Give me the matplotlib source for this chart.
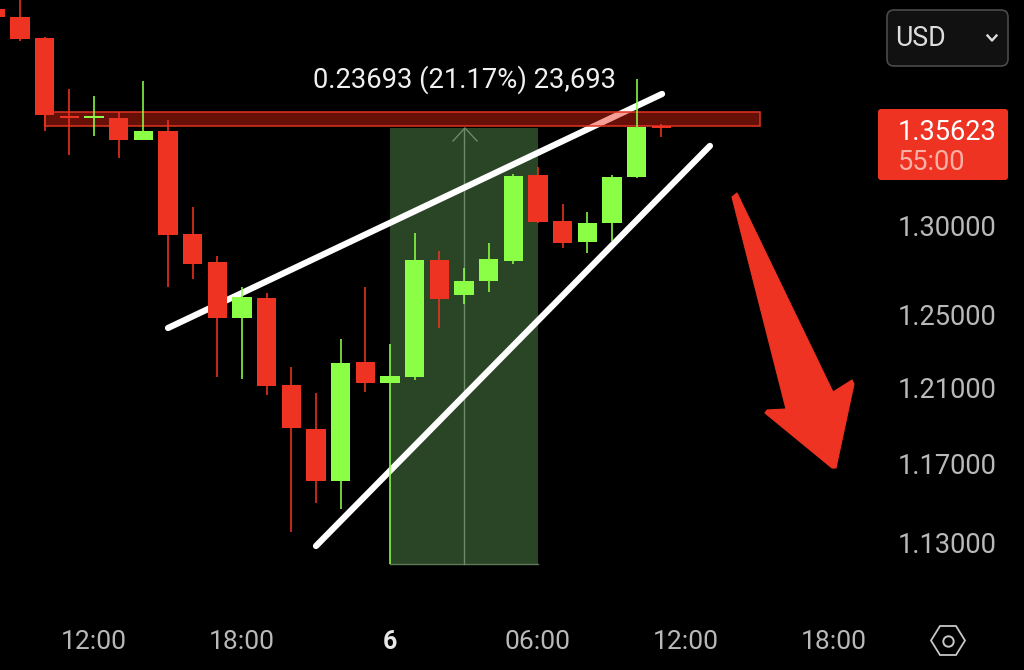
import matplotlib
matplotlib.use("Agg")
import matplotlib.pyplot as plt
from matplotlib.patches import Polygon, Rectangle, FancyBboxPatch
from matplotlib.lines import Line2D
from matplotlib.ticker import NullLocator, NullFormatter, FixedLocator, FixedFormatter
from matplotlib.transforms import Affine2D

plt.rcParams['font.family'] = ['Roboto', 'DejaVu Sans']

# --- data (hours since 12:00 of the previous day) ---
hours = list(range(-4, 24))
opens = [1.4313, 1.4262, 1.4130, 1.3650, 1.3638, 1.3638, 1.3505, 1.3559, 1.2954, 1.2794,
         1.2480, 1.2592, 1.2115, 1.1881, 1.1610, 1.2239, 1.2126, 1.2158, 1.2805, 1.2608,
         1.2687, 1.2800, 1.3297, 1.3029, 1.2908, 1.3017, 1.3286, 1.3590]
closes = [1.4262, 1.4124, 1.3656, 1.3638, 1.3650, 1.3505, 1.3559, 1.2948, 1.2783, 1.2480,
          1.2597, 1.2110, 1.1886, 1.1610, 1.2234, 1.2126, 1.2163, 1.2805, 1.2586, 1.2687,
          1.2811, 1.3291, 1.3023, 1.2902, 1.3017, 1.3286, 1.3583, 1.3577]
highs = [1.4313, 1.4402, 1.4136, 1.3814, 1.3771, 1.3674, 1.3863, 1.3626, 1.3110, 1.2828,
         1.2653, 1.2620, 1.2212, 1.2072, 1.2365, 1.2653, 1.2337, 1.2960, 1.2857, 1.2760,
         1.2902, 1.3303, 1.3345, 1.3128, 1.3081, 1.3297, 1.3876, 1.3604]
lows = [1.4262, 1.4111, 1.3559, 1.3416, 1.3529, 1.3398, 1.3505, 1.2653, 1.2698, 1.2158,
        1.2147, 1.2061, 1.1350, 1.1497, 1.1467, 1.2077, 1.1190, 1.2142, 1.2425, 1.2558,
        1.2625, 1.2783, 1.3017, 1.2874, 1.2845, 1.2914, 1.3280, 1.3523]

price_ticks = [1.30, 1.25, 1.21, 1.17, 1.13]
price_labels = ["1.30000", "1.25000", "1.21000", "1.17000", "1.13000"]
time_ticks = [0, 6, 12, 18, 24, 30]
time_labels = ["12:00", "18:00", "6", "06:00", "12:00", "18:00"]

trend_upper_x, trend_upper_y = [3.0, 23.03], [1.2425, 1.3784]
trend_lower_x, trend_lower_y = [9.0, 24.97], [1.1280, 1.3470]
band_x, band_y = [-2.0, 27.0], [1.3590, 1.3674]
measure_x, measure_y = [12, 18], [1.1190, 1.3577]
measure_text = "0.23693 (21.17%) 23,693"
last_price = "1.35623"
countdown = "55:00"

RED = "#ee3322"
GREEN = "#8aff45"

fig = plt.figure(figsize=(10.24, 6.7), dpi=100, facecolor="black")
ax = fig.add_axes([0, 0, 1, 1], facecolor="black")
ax.set_yscale("log")
ppi = 148 / 6
ax.set_xlim(-94 / ppi, 930 / ppi)
ax.set_ylim(1.06765, 1.43704)
for s in ax.spines.values():
    s.set_visible(False)

ax.yaxis.tick_right()
ax.yaxis.set_major_locator(FixedLocator(price_ticks))
ax.yaxis.set_major_formatter(FixedFormatter(price_labels))
ax.yaxis.set_minor_locator(NullLocator())
ax.yaxis.set_minor_formatter(NullFormatter())
ax.tick_params(axis="y", length=0, pad=-90.7, labelsize=19.6, labelcolor="#b9b9b9")
ax.xaxis.set_major_locator(FixedLocator(time_ticks))
ax.xaxis.set_major_formatter(FixedFormatter(time_labels))
ax.tick_params(axis="x", length=0, pad=-29.0, labelsize=19.0, labelcolor="#b9b9b9")
for lab, txt in zip(ax.get_xticklabels(), time_labels):
    if txt == "6":
        lab.set_fontweight("bold")
        lab.set_fontsize(18)
        lab.set_color("#e8e8e8")

px = Affine2D().scale(1 / 1024, -1 / 670).translate(0, 1) + fig.transFigure

# measuring rectangle
ax.add_patch(Rectangle((measure_x[0], measure_y[0]), measure_x[1] - measure_x[0],
                       measure_y[1] - measure_y[0], facecolor="#2a4526",
                       edgecolor="none", zorder=1))
ax.plot(measure_x, [measure_y[0]] * 2, color="#5f7a58", lw=1.0, zorder=1.1)
mid = (measure_x[0] + measure_x[1]) / 2
ax.plot([mid, mid], measure_y, color="#6c8a68", lw=1.0, zorder=1.2)
ax.add_line(Line2D([453, 465, 477], [141, 128, 141], transform=px, color="#6c8a68", lw=1.0, zorder=1.2))

# trend lines
for xs, ys in ((trend_upper_x, trend_upper_y), (trend_lower_x, trend_lower_y)):
    ax.plot(xs, ys, color="white", lw=4.5, solid_capstyle="round", zorder=2)

# resistance band
ax.add_patch(Rectangle((band_x[0], band_y[0]), band_x[1] - band_x[0], band_y[1] - band_y[0],
                       facecolor=(0.93, 0.15, 0.08, 0.44), edgecolor=(0.88, 0.2, 0.13, 1.0),
                       lw=1.1, zorder=3))

# candles
colors = [GREEN if c > o else RED for o, c in zip(opens, closes)]
ax.vlines(hours, lows, highs, colors=colors, lw=1.15, zorder=4)
bottoms = [min(o, c) for o, c in zip(opens, closes)]
heights = [abs(o - c) for o, c in zip(opens, closes)]
ax.bar(hours, heights, bottom=bottoms, width=0.79, color=colors, linewidth=0, zorder=5)

# measurement caption
ax.text(464.5, 80, measure_text, transform=px, color="#f0f0f0", fontsize=19.7,
        ha="center", va="center", zorder=6)

# hand-drawn arrow
ax.add_patch(Polygon([(732, 197), (737, 193), (833, 392), (852, 380), (854, 384),
                      (836, 468), (832, 468), (765, 413), (767, 410), (786, 409)],
                     closed=True, transform=px, facecolor=RED, edgecolor=RED, lw=0.8,
                     joinstyle="round", zorder=6))

# last price box
ax.add_patch(FancyBboxPatch((881, 112), 124, 65, boxstyle="round,pad=3,rounding_size=3",
                            transform=px, facecolor=RED, edgecolor="none", zorder=6))
ax.text(898, 132, last_price, transform=px, color="#ffffff", fontsize=19.6,
        ha="left", va="center", zorder=7)
ax.text(898, 163, countdown, transform=px, color="#fbb0a6", fontsize=19.6,
        ha="left", va="center", zorder=7)

# currency button
ax.add_patch(FancyBboxPatch((893, 16), 109, 44, boxstyle="round,pad=6,rounding_size=7",
                            transform=px, facecolor="#111111", edgecolor="#4a4a4a", lw=1.2, zorder=6))
ax.text(895, 39, "USD", transform=px, color="#dddddd", fontsize=19.3, ha="left", va="center", zorder=7)
ax.add_line(Line2D([987.5, 992, 996.5], [35.5, 40.5, 35.5], transform=px, color="#dddddd", lw=1.7, zorder=7))

# settings icon
ax.add_patch(Polygon([(931, 640.5), (940, 626), (956, 626), (965, 640.5), (956, 655), (940, 655)],
                     closed=True, transform=px, facecolor="none", edgecolor="#c8c8c8", lw=1.3, zorder=7))
ax.add_line(Line2D([948], [640.5], transform=px, marker="o", ms=7.5, mfc="none", mec="#c8c8c8", mew=1.4,
                   ls="none", zorder=7))

fig.savefig("out.png", dpi=100, facecolor="black")
